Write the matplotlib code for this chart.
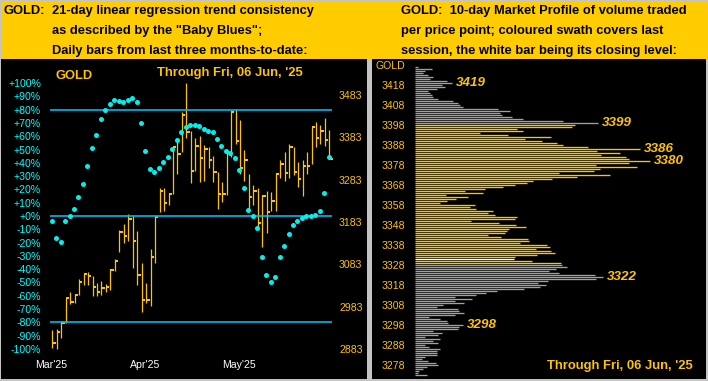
import numpy as np
import pandas as pd
import matplotlib
matplotlib.use("Agg")
import matplotlib.pyplot as plt
from matplotlib.patches import Rectangle

# ---------------- data ----------------
start_date = "2025-03-10"
end_date = "2025-06-06"
holidays = ["2025-04-18", "2025-05-26"]
month_firsts = ["2025-03-03", "2025-04-01", "2025-05-01"]
month_labels = ["Mar'25", "Apr'25", "May'25"]

highs = [2928, 2930, 2948, 3004, 3017, 3013, 3048, 3063, 3066, 3055,
         3039, 3044, 3037, 3071, 3096, 3164, 3178, 3201, 3196, 3162,
         3085, 3038, 3119, 3196, 3263, 3263, 3251, 3361, 3374, 3442,
         3511, 3398, 3381, 3386, 3365, 3360, 3339, 3300, 3277, 3348,
         3445, 3449, 3423, 3353, 3296, 3270, 3263, 3245, 3256, 3253,
         3298, 3330, 3348, 3367, 3359, 3324, 3330, 3348, 3408, 3419,
         3412, 3429, 3400]
lows = [2886, 2884, 2910, 2944, 2990, 2992, 3011, 3033, 3034, 3007,
        3009, 3011, 3018, 3022, 3067, 3113, 3133, 3137, 3075, 3034,
        2971, 2991, 2985, 3087, 3207, 3210, 3223, 3248, 3297, 3348,
        3382, 3274, 3304, 3277, 3280, 3311, 3278, 3213, 3231, 3247,
        3337, 3368, 3296, 3280, 3207, 3222, 3172, 3125, 3158, 3209,
        3209, 3288, 3280, 3286, 3294, 3266, 3245, 3297, 3321, 3359,
        3368, 3363, 3332]
closes = [2897, 2924, 2945, 3003, 2995, 3011, 3042, 3060, 3055, 3030,
          3018, 3028, 3029, 3070, 3091, 3160, 3150, 3190, 3139, 3058,
          2999, 2999, 3100, 3195, 3256, 3229, 3248, 3359, 3344, 3436,
          3395, 3304, 3363, 3333, 3355, 3330, 3302, 3250, 3250, 3345,
          3443, 3374, 3310, 3330, 3243, 3257, 3181, 3245, 3207, 3233,
          3296, 3319, 3298, 3359, 3302, 3285, 3316, 3316, 3408, 3381,
          3399, 3377, 3332]
baby_blues = [-3.5, -16.3, -19.3, -3.5, 0.3, 5.5, 14.5, 24.3, 37.8, 51.4,
              61.1, 73.2, 79.9, 84.4, 87.4, 86.7, 85.9, 87.4, 88.9, 85.9,
              70.2, 49.1, 35.6, 33.3, 36.3, 40.8, 44.6, 50.6, 57.4, 63.4,
              67.1, 68.6, 68.6, 67.7, 65.4, 63.9, 63.2, 57.9, 52.6, 48.9,
              47.4, 43.6, 34.6, 21.1, 4.5, 0.0, -9.0, -30.8, -44.4, -49.6,
              -45.9, -30.8, -22.6, -13.5, -6.8, -3.8, -1.3, 0.0, 0.0, 0.8,
              3.8, 17.3, 44.4]
pct_ticks = list(range(-100, 101, 10))
price_ticks = [2883, 2983, 3083, 3183, 3283, 3383, 3483]
trend_levels = [80, 0, -80]

# market profile (volume per price point, highest price first)
profile_top, profile_bottom = 3427, 3273
profile_volume = [3, 17, 10, 8, 13, 18, 15, 32, 37, 27,
                  30, 22, 13, 15, 17, 18, 23, 38, 43, 45,
                  48, 83, 95, 85, 87, 97, 108, 148, 183, 160,
                  157, 102, 108, 65, 93, 136, 110, 127, 142, 148,
                  173, 225, 182, 205, 186, 211, 214, 235, 214, 181,
                  222, 185, 179, 144, 195, 162, 137, 118, 112, 100,
                  88, 70, 50, 68, 31, 53, 41, 32, 25, 60,
                  55, 61, 78, 73, 80, 102, 100, 56, 84, 101,
                  111, 94, 92, 90, 73, 86, 113, 114, 105, 132,
                  135, 121, 136, 140, 122, 100, 99, 117, 146, 147,
                  152, 141, 134, 144, 180, 188, 181, 133, 123, 131,
                  125, 109, 82, 71, 61, 40, 57, 40, 49, 28,
                  22, 43, 44, 49, 40, 14, 25, 32, 33, 48,
                  44, 43, 18, 27, 23, 10, 25, 18, 23, 10,
                  14, 25, 22, 22, 22, 10, 7, 13, 21, 23,
                  12, 8, 4, 3, 12]
session_high, session_low, session_close = 3398, 3329, 3331
peak_labels = [3419, 3399, 3386, 3380, 3322, 3298]
profile_ticks = list(range(3278, 3419, 10))

header_left = ["21-day linear regression trend consistency",
               "as described by the \"Baby Blues\";",
               "Daily bars from last three months-to-date:"]
header_right = ["GOLD:  10-day Market Profile of volume traded",
                "per price point; coloured swath covers last",
                "session, the white bar being its closing level:"]
through_text = "Through Fri, 06 Jun, '25"

# ---------------- styles ----------------
W, H = 708, 381
YEL = "#FFCC00"
GOLDC = "#FFC400"
CYAN_LINE = "#00B8F0"
CYAN_DOT = "#00F0F0"
CYAN_TXT = "#00FFFF"
GRAY_BAR = "#A0A0A0"
BORDER = "#C4C4C4"
FONT = "Liberation Sans"

def fx(px):
    return px / W

def fy(py):
    return 1 - py / H

fig = plt.figure(figsize=(W / 100, H / 100), dpi=100, facecolor=BORDER)

# background panels
for (x0, y0, w, h, c) in [(1, 1, 706, 58, YEL), (1, 59, 366, 320, "black"),
                          (372, 59, 334, 320, "black")]:
    fig.patches.append(Rectangle((fx(x0), fy(y0 + h)), w / W, h / H,
                                 transform=fig.transFigure, facecolor=c,
                                 edgecolor="none", zorder=-10))

# header texts
hsize = 9.3
fig.text(fx(4), fy(11), "GOLD:", fontsize=hsize, fontweight="bold", family=FONT,
         color="black", va="center", ha="left")
for i, line in enumerate(header_left):
    fig.text(fx(52), fy(11 + 20 * i), line, fontsize=hsize, fontweight="bold", family=FONT,
             color="black", va="center", ha="left")
for i, line in enumerate(header_right):
    fig.text(fx(401), fy(11 + 20 * i), line, fontsize=hsize, fontweight="bold", family=FONT,
             color="black", va="center", ha="left")

# ---------------- left chart ----------------
dates = pd.bdate_range(start_date, end_date)
dates = dates[~dates.isin(pd.to_datetime(holidays))]
n = len(dates)
x = np.arange(n)
month_pos = [np.busday_count(start_date, m, holidays=holidays) + 4.85 for m in month_firsts]

axp = fig.add_axes([fx(48), fy(352), 288 / W, 272 / H])
axp.set_facecolor("none")
axp.set_xlim(-0.96, 63.47)
axp.set_ylim(2875.9, 3518.4)
for s in axp.spines.values():
    s.set_visible(False)

axc = axp.twinx()
axc.set_facecolor("none")
axc.set_ylim(-102.26, 102.26)
for s in axc.spines.values():
    s.set_visible(False)

# price bars
vl = axp.vlines(x, lows, highs, color=GOLDC, linewidth=0.9)
vl.set_snap(True)
ct = axp.hlines(closes, x, x + 0.75, color=GOLDC, linewidth=1.4, antialiased=False)
ct.set_snap(True)

# price axis on the right
axp.yaxis.tick_right()
axp.set_yticks(price_ticks)
axp.set_yticklabels([str(p) for p in price_ticks])
axp.tick_params(axis="y", length=0, pad=2.2, labelcolor=GOLDC, labelsize=7.6)
axp.set_xticks(month_pos)
axp.set_xticklabels(month_labels)
axp.tick_params(axis="x", length=0, pad=6, labelcolor="white", labelsize=7.6)
for lab in axp.get_yticklabels() + axp.get_xticklabels():
    lab.set_family(FONT)

# trend consistency
tl = axc.hlines(trend_levels, -0.5, n - 0.5, color=CYAN_LINE, linewidth=1.2)
tl.set_snap(True)
axc.plot(x - 0.15, baby_blues, linestyle="none", marker="o", markersize=3.6,
         markeredgewidth=0, color=CYAN_DOT)
axc.yaxis.tick_left()
axc.set_yticks(pct_ticks)
axc.set_yticklabels([f"{v:+d}%" for v in pct_ticks])
axc.tick_params(axis="y", length=0, pad=5, labelcolor=CYAN_TXT, labelsize=7.6)
for lab in axc.get_yticklabels():
    lab.set_family(FONT)

fig.text(fx(55), fy(76), "GOLD", fontsize=9.3, fontweight="bold", family=FONT,
         color=GOLDC, va="center", ha="left")
fig.text(fx(157), fy(73), through_text, fontsize=9.4, fontweight="bold", family=FONT,
         color=GOLDC, va="center", ha="left")

# ---------------- right chart: market profile ----------------
prices = np.arange(profile_top, profile_bottom - 1, -1)
vol = np.array(profile_volume)
colors = []
for p in prices:
    if p == session_close:
        colors.append("#FFFFFF")
    elif session_low <= p <= session_high:
        colors.append(GOLDC)
    else:
        colors.append(GRAY_BAR)

# 2 px per price point so every row sits on the same pixel grid
axr = fig.add_axes([fx(415), fy(379), (706 - 415) / W, (379 - 60) / H])
axr.set_facecolor("none")
axr.set_xlim(0, 291)
axr.set_ylim(3271.25, 3430.75)
for s in axr.spines.values():
    s.set_visible(False)
pl = axr.hlines(prices, 0, vol, colors=colors, linewidth=0.95)
pl.set_snap(True)
axr.set_xticks([])
axr.set_yticks(profile_ticks)
axr.set_yticklabels([str(p) for p in profile_ticks])
axr.tick_params(axis="y", length=0, pad=7.2, labelcolor=GOLDC, labelsize=7.6)
for lab in axr.get_yticklabels():
    lab.set_family(FONT)

for p in peak_labels:
    v = vol[list(prices).index(p)]
    axr.text(v + 4, p, str(p), fontsize=9.6, fontweight="bold", fontstyle="italic",
             family=FONT, color=GOLDC, va="center", ha="left")

fig.text(fx(405), fy(66), "GOLD", fontsize=7.6, family=FONT, color=GOLDC,
         va="center", ha="right")
fig.text(fx(547), fy(366), through_text, fontsize=9.4, fontweight="bold", family=FONT,
         color=GOLDC, va="center", ha="left")

fig.savefig("out.png", dpi=100, facecolor=BORDER)
